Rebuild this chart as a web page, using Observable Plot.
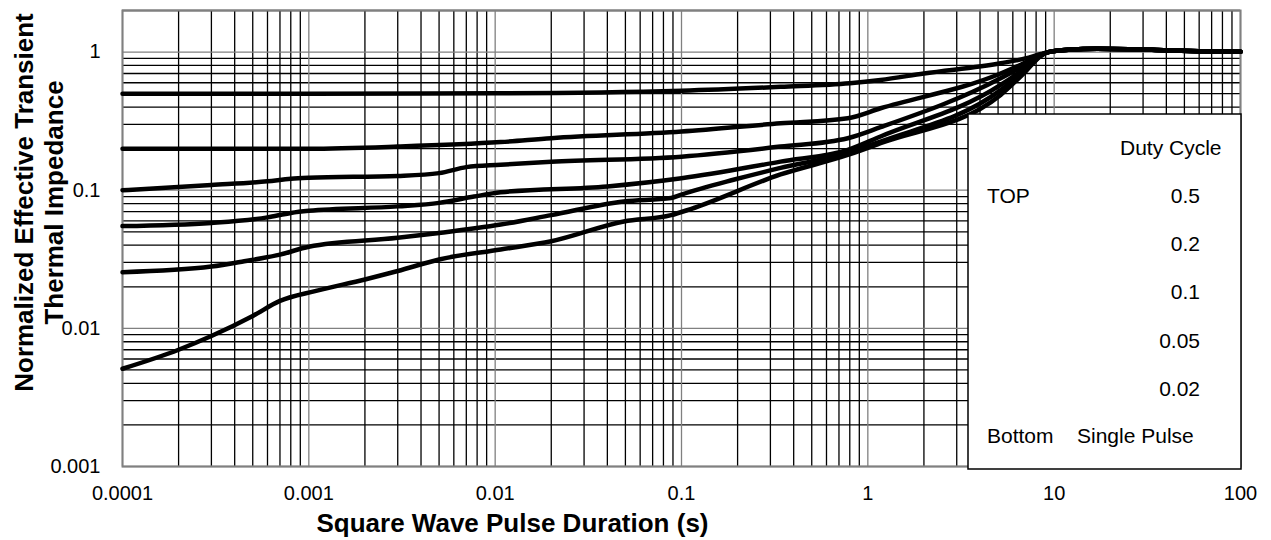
<!DOCTYPE html>
<html>
<head>
<meta charset="utf-8">
<script src="https://cdn.jsdelivr.net/npm/d3@7"></script>
<script src="https://cdn.jsdelivr.net/npm/@observablehq/plot@0.6"></script>
<style>
  body { margin: 0; background: #fff; }
  #chart { position: relative; width: 1271px; height: 540px; font-family: "Liberation Sans", Arial, sans-serif; }
  #chart svg.overlay { position: absolute; left: 0; top: 0; pointer-events: none; }
</style>
</head>
<body>
<div id="chart"></div>
<script>
// ---- Axis ticks ----
const xTickValues = [1e-4, 1e-3, 1e-2, 1e-1, 1, 10, 100];
const xTickLabels = ["0.0001", "0.001", "0.01", "0.1", "1", "10", "100"];
const yTickValues = [0.001, 0.01, 0.1, 1];
const yTickLabels = ["0.001", "0.01", "0.1", "1"];
const minorMultipliers = [2, 3, 4, 5, 6, 7, 8, 9];

// ---- Titles ----
const xTitle = "Square Wave Pulse Duration (s)";
const yTitleLines = ["Normalized Effective Transient", "Thermal Impedance"];

// ---- Series (pulse duration in s, normalized impedance) ----
const seriesNames = ["0.5", "0.2", "0.1", "0.05", "0.02", "Single Pulse"];
const tailT = [9.3, 12, 17, 25, 40, 60, 100];
const tailZ = [1.0, 1.04, 1.055, 1.05, 1.03, 1.015, 1.005];

const d05T = [1e-4, 1e-3, 0.01, 0.1, 0.34, 0.8, 1.17, 2, 5.16, 7, 8.5];
const d05Z = [0.50, 0.50, 0.503, 0.525, 0.56, 0.594, 0.628, 0.70, 0.83, 0.90, 0.97];

const d02T = [1e-4, 1e-3, 3e-3, 0.0107, 0.02, 0.1, 0.34, 0.78, 1.17, 5.16, 7, 8.5];
const d02Z = [0.20, 0.20, 0.207, 0.223, 0.238, 0.266, 0.305, 0.332, 0.392, 0.70, 0.84, 0.96];

const d01T = [1e-4, 3e-4, 6e-4, 8e-4, 1e-3, 3e-3, 5e-3, 7e-3, 0.0107, 0.02, 0.1, 0.34, 0.78, 1.17, 5.16, 7, 8.5];
const d01Z = [0.100, 0.109, 0.116, 0.121, 0.123, 0.127, 0.133, 0.147, 0.153, 0.161, 0.175, 0.207, 0.238, 0.286, 0.646, 0.81, 0.955];

const d005T = [1e-4, 3e-4, 6e-4, 8e-4, 1e-3, 3e-3, 5e-3, 7.7e-3, 0.0107, 0.04, 0.1, 0.34, 0.78, 1.17, 5.16, 7, 8.5];
const d005Z = [0.055, 0.058, 0.0636, 0.0685, 0.071, 0.0764, 0.081, 0.090, 0.0966, 0.1065, 0.122, 0.161, 0.196, 0.245, 0.578, 0.77, 0.95];

const d002T = [1e-4, 3e-4, 4.5e-4, 7e-4, 1e-3, 3e-3, 5e-3, 0.0107, 0.02, 0.049, 0.088, 0.1, 0.19, 0.34, 0.78, 1.17, 5.16, 7, 8.5];
const d002Z = [0.0255, 0.028, 0.0306, 0.0342, 0.039, 0.0452, 0.049, 0.0564, 0.066, 0.083, 0.0877, 0.093, 0.119, 0.145, 0.186, 0.225, 0.53, 0.74, 0.945];

const singleT = [1e-4, 2e-4, 3e-4, 5e-4, 7e-4, 1.08e-3, 2e-3, 3e-3, 5e-3, 0.0107, 0.02, 0.049, 0.088, 0.112, 0.34, 0.78, 1.17, 5.16, 7, 8.5];
const singleZ = [0.0051, 0.0070, 0.0088, 0.0123, 0.0158, 0.0186, 0.0226, 0.026, 0.0315, 0.0372, 0.0427, 0.0594, 0.066, 0.0731, 0.130, 0.180, 0.219, 0.49, 0.72, 0.94];

// ---- Legend texts ----
const legendHeader = "Duty Cycle";
const legendLeft = ["TOP", "", "", "", "", "Bottom"];
const legendRight = ["0.5", "0.2", "0.1", "0.05", "0.02", "Single Pulse"];

// ---- Build table ----
const seriesT = [d05T, d02T, d01T, d005T, d002T, singleT];
const seriesZ = [d05Z, d02Z, d01Z, d005Z, d002Z, singleZ];
const rows = [];
seriesNames.forEach((name, k) => {
  seriesT[k].forEach((t, i) => rows.push({series: name, t, z: seriesZ[k][i]}));
  tailT.forEach((t, i) => rows.push({series: name, t, z: tailZ[i]}));
});

const xMinor = [];
xTickValues.slice(0, -1).forEach(d => minorMultipliers.forEach(m => xMinor.push(d * m)));
const yMinor = [];
yTickValues.forEach(d => minorMultipliers.forEach(m => { if (d * m <= 2) yMinor.push(d * m); }));

const font = '"Liberation Sans", Arial, sans-serif';

const plot = Plot.plot({
  width: 1271,
  height: 540,
  marginLeft: 122,
  marginRight: 31,
  marginTop: 10,
  marginBottom: 74,
  style: {fontFamily: font, fontSize: "20px", background: "white", color: "black", overflow: "visible"},
  x: {type: "log", domain: [1e-4, 100]},
  y: {type: "log", domain: [0.001, 2]},
  marks: [
    Plot.ruleX(xMinor, {stroke: "black", strokeWidth: 1.3}),
    Plot.ruleY(yMinor, {stroke: "black", strokeWidth: 1.3}),
    Plot.ruleX(xTickValues, {stroke: "#808080", strokeWidth: 1.3}),
    Plot.ruleY(yTickValues, {stroke: "#808080", strokeWidth: 1.3}),
    Plot.frame({stroke: "#808080", strokeWidth: 2}),
    Plot.axisX({ticks: xTickValues, tickSize: 0, tickPadding: 19, fontSize: 20,
      tickFormat: d => xTickLabels[xTickValues.indexOf(d)], label: null}),
    Plot.axisY({ticks: yTickValues, tickSize: 0, tickPadding: 22, fontSize: 20,
      tickFormat: d => yTickLabels[yTickValues.indexOf(d)], label: null}),
    Plot.line(rows, {x: "t", y: "z", z: "series", stroke: "black", strokeWidth: 4.5, curve: "monotone-x"}),
    Plot.text([xTitle], {frameAnchor: "bottom", text: d => d, dx: -169, dy: 65, lineAnchor: "bottom",
      textAnchor: "middle", fontWeight: "bold", fontSize: 26, fill: "black"}),
    Plot.text([yTitleLines[0]], {frameAnchor: "left", text: d => d, rotate: -90, dx: -90, dy: -36, lineAnchor: "bottom",
      textAnchor: "middle", fontWeight: "bold", fontSize: 26, fill: "black"}),
    Plot.text([yTitleLines[1]], {frameAnchor: "left", text: d => d, rotate: -90, dx: -60, dy: -36, lineAnchor: "bottom",
      textAnchor: "middle", fontWeight: "bold", fontSize: 26, fill: "black"})
  ]
});

const chart = document.getElementById("chart");
chart.appendChild(plot);

// ---- Legend box overlay ----
const svg = d3.select(chart).append("svg")
  .attr("class", "overlay")
  .attr("width", 1271).attr("height", 540)
  .style("font-family", font).style("font-size", "21px");
svg.append("rect").attr("x", 968).attr("y", 114).attr("width", 273).attr("height", 355)
  .attr("fill", "white").attr("stroke", "black").attr("stroke-width", 1.5);
svg.append("text").attr("x", 1120).attr("y", 155).text(legendHeader);
const rowY = [203, 251, 299, 348, 396, 443];
legendLeft.forEach((s, i) => {
  if (s) svg.append("text").attr("x", 987).attr("y", rowY[i]).text(s);
});
legendRight.forEach((s, i) => {
  if (i === legendRight.length - 1) {
    svg.append("text").attr("x", 1077).attr("y", rowY[i]).text(s);
  } else {
    svg.append("text").attr("x", 1200).attr("y", rowY[i]).attr("text-anchor", "end").text(s);
  }
});
</script>
</body>
</html>
